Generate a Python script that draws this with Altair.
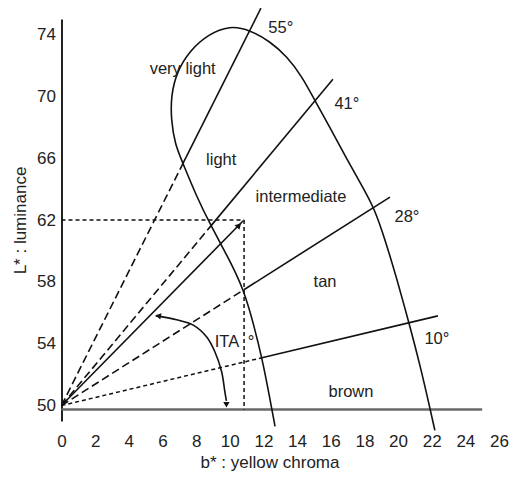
import altair as alt
import pandas as pd

FONT = "Liberation Sans"

# ---- data (b* = yellow chroma, L* = luminance) ----
# boundary loop, traced from its lower-left end, up, round the top, down to the lower-right end
curve_b = [12.69, 12.33, 11.91, 11.44, 10.84, 9.89, 8.88, 7.99, 7.22, 6.74, 6.51, 6.51,
           6.86, 7.64, 8.70, 10.01, 11.20, 12.39, 13.40, 14.29, 15.06, 16.01, 16.96,
           17.80, 18.57, 19.22, 19.93, 20.65, 21.30, 21.90, 22.19]
curve_L = [48.65, 50.77, 53.09, 55.16, 57.49, 59.61, 61.62, 63.61, 65.66, 66.90, 68.52,
           70.06, 71.61, 72.97, 74.00, 74.58, 74.29, 73.55, 72.58, 71.29, 69.72, 67.87,
           65.94, 64.32, 62.82, 60.77, 58.19, 55.35, 52.65, 49.81, 48.39]

# rays from the origin (0, 50): outer end and crossing with the loop
ray_label = ["55°", "41°", "28°", "10°"]
ray_end_b = [11.85, 16.13, 19.52, 22.37]
ray_end_L = [75.70, 71.10, 63.48, 55.80]
ray_cross_b = [7.22, 8.88, 10.84, 11.91]
ray_cross_L = [65.66, 61.62, 57.49, 53.09]

origin_b, origin_L = 0.0, 50.0
point_b, point_L = 10.85, 62.0          # measured colour point
baseline_L, baseline_end = 49.75, 25.0

# ITA arc (curved double arrow)
arc_b = [5.60, 6.84, 7.83, 8.63, 9.12, 9.52, 9.71, 9.80]
arc_L = [55.80, 55.55, 55.20, 54.43, 53.46, 52.17, 50.88, 50.30]

# text labels
lab_text = ["55°", "41°", "28°", "10°", "very light", "light", "intermediate", "tan",
            "brown", "ITA", "°"]
lab_b = [13.03, 16.96, 20.53, 22.31, 7.20, 9.49, 14.23, 15.66, 17.20, 9.83, 11.26]
lab_L = [74.45, 69.48, 62.19, 54.32, 71.74, 65.87, 63.48, 58.00, 50.90, 54.13, 54.13]

x_ticks = list(range(0, 27, 2))
y_ticks = list(range(50, 75, 4))

# ---- tables ----
solid = pd.DataFrame({
    "b": ray_cross_b + [origin_b],
    "L": ray_cross_L + [origin_L],
    "b2": ray_end_b + [point_b - 0.05],
    "L2": ray_end_L + [point_L - 0.05],
})
long_dash = pd.DataFrame({
    "b": [origin_b] * 3, "L": [origin_L] * 3,
    "b2": ray_cross_b[:3], "L2": ray_cross_L[:3],
})
short_dash = pd.DataFrame({
    "b": [origin_b, origin_b, point_b],
    "L": [origin_L, point_L, point_L],
    "b2": [ray_cross_b[3], point_b, point_b],
    "L2": [ray_cross_L[3], point_L, baseline_L],
})
baseline = pd.DataFrame({"b": [origin_b], "L": [baseline_L], "b2": [baseline_end], "L2": [baseline_L]})
curve = pd.DataFrame({"b": curve_b, "L": curve_L, "i": range(len(curve_b))})
arc = pd.DataFrame({"b": arc_b, "L": arc_L, "i": range(len(arc_b))})
labels = pd.DataFrame({"t": lab_text, "b": lab_b, "L": lab_L})

xs = alt.Scale(domain=[0, 26], nice=False, zero=False)
ys = alt.Scale(domain=[49, 75], nice=False, zero=False)

X = alt.X("b:Q", scale=xs, axis=alt.Axis(
    values=x_ticks, domain=False, ticks=False, grid=False, labelFontSize=17,
    labelFont=FONT, labelColor="#222", labelPadding=12, labelFlush=False,
    labelOverlap=False,
    title="b* : yellow chroma", titleFont=FONT, titleFontSize=17,
    titleFontWeight="normal", titleColor="#222", titleX=208, titleY=41.5,
    titleBaseline="middle"))
Y = alt.Y("L:Q", scale=ys, axis=alt.Axis(
    values=y_ticks, domain=True, domainColor="#222", domainWidth=2, ticks=False,
    grid=False, labelFontSize=17, labelFont=FONT, labelColor="#222", labelPadding=6,
    labelFlush=False, labelOverlap=False, title="L* : luminance", titleFont=FONT,
    titleFontSize=17, titleFontWeight="normal", titleColor="#222", titleX=-41,
    titleBaseline="middle"))

def rules(df, **kw):
    return alt.Chart(df).mark_rule(**kw).encode(x=X, y=Y, x2="b2:Q", y2="L2:Q")

def pt(b, L, angle, size):
    return alt.Chart(pd.DataFrame({"b": [b], "L": [L]})).mark_point(
        shape="triangle-up", filled=True, color="#111", size=size, angle=angle,
        opacity=1).encode(x=X, y=Y)

layers = [
    alt.Chart(baseline).mark_rule(color="#6a6a6a", strokeWidth=2.5).encode(
        x=X, y=Y, x2="b2:Q", y2="L2:Q"),
    rules(solid, color="#111", strokeWidth=1.6),
    rules(long_dash, color="#111", strokeWidth=1.6, strokeDash=[8, 4]),
    rules(short_dash, color="#111", strokeWidth=1.5, strokeDash=[4, 3]),
    alt.Chart(curve).mark_line(color="#111", strokeWidth=1.6, interpolate="basis").encode(
        x=X, y=Y, order="i:Q"),
    alt.Chart(arc).mark_line(color="#111", strokeWidth=1.6, interpolate="catmull-rom").encode(
        x=X, y=Y, order="i:Q"),
    # arrow heads
    pt(point_b - 0.3, point_L - 0.35, 44, 45),
    pt(arc_b[0] + 0.15, arc_L[0], 282, 40),
    pt(arc_b[-1], origin_L + 0.05, 180, 40),
    alt.Chart(labels).mark_text(font=FONT, fontSize=16.5, color="#222", baseline="middle").encode(
        x=X, y=Y, text="t:N"),
]

chart = alt.layer(*layers).properties(
    width=437.5, height=402,
    autosize=alt.AutoSizeParams(type="none"),
    padding={"left": 53.5, "top": 11, "right": 10, "bottom": 50},
).configure_view(stroke=None).configure_axis(labelOverlap=False)

chart.save("out.html", embed_options={"renderer": "svg", "actions": False})
